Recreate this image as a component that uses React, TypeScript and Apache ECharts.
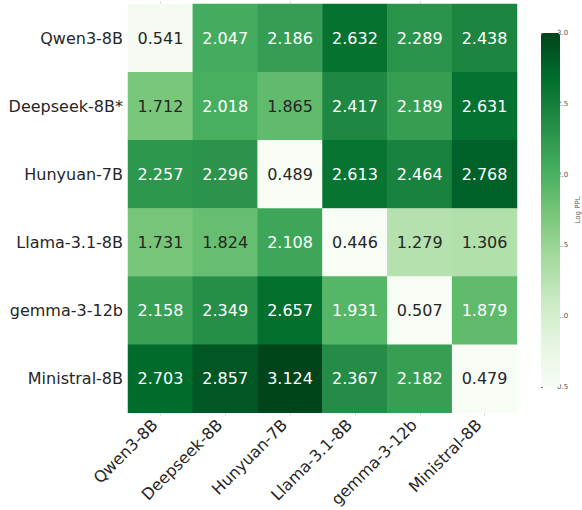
import React, { useEffect, useRef } from "react";
import * as echarts from "echarts";

const rowLabels = ["Qwen3-8B", "Deepseek-8B*", "Hunyuan-7B", "Llama-3.1-8B", "gemma-3-12b", "Ministral-8B"];
const colLabels = ["Qwen3-8B", "Deepseek-8B", "Hunyuan-7B", "Llama-3.1-8B", "gemma-3-12b", "Ministral-8B"];

const rowQwen = [0.541, 2.047, 2.186, 2.632, 2.289, 2.438];
const rowDeepseek = [1.712, 2.018, 1.865, 2.417, 2.189, 2.631];
const rowHunyuan = [2.257, 2.296, 0.489, 2.613, 2.464, 2.768];
const rowLlama = [1.731, 1.824, 2.108, 0.446, 1.279, 1.306];
const rowGemma = [2.158, 2.349, 2.657, 1.931, 0.507, 1.879];
const rowMinistral = [2.703, 2.857, 3.124, 2.367, 2.182, 0.479];

const matrix = [rowQwen, rowDeepseek, rowHunyuan, rowLlama, rowGemma, rowMinistral];

const colorbarMin = 0.5;
const colorbarMax = 3.0;
const colorbarStep = 0.5;

const greens = ["#f7fcf5", "#e5f5e0", "#c7e9c0", "#a1d99b", "#74c476", "#41ab5d", "#238b45", "#006d2c", "#00441b"];

const FONT = "DejaVu Sans";

export default function App() {
  const ref = useRef<HTMLDivElement>(null);

  useEffect(() => {
    if (!ref.current) return;
    const chart = echarts.init(ref.current, null, { renderer: "svg" });

    const data: any[] = [];
    matrix.forEach((row, r) => {
      row.forEach((v, c) => {
        data.push({
          value: [c, r, v],
          label: { color: v < 1.87 ? "#262626" : "#ffffff" },
        });
      });
    });

    chart.setOption({
      animation: false,
      backgroundColor: "#ffffff",
      textStyle: { fontFamily: FONT },
      grid: [
        { left: 128, top: 4, width: 389, height: 413 },
        { left: 541, top: 33, width: 19, height: 354 },
      ],
      xAxis: [
        {
          type: "category",
          gridIndex: 0,
          data: colLabels,
          position: "bottom",
          axisLine: { show: false },
          axisTick: { show: true, alignWithLabel: true, length: 3, lineStyle: { color: "#dddddd" } },
          axisLabel: {
            rotate: 45,
            fontSize: 16,
            color: "#262626",
            fontFamily: FONT,
            margin: 15,
            verticalAlign: "bottom",
            interval: 0,
          },
          splitLine: { show: false },
        },
        {
          type: "category",
          gridIndex: 0,
          data: colLabels,
          position: "top",
          axisLine: { show: false },
          axisTick: { show: true, alignWithLabel: true, length: 3, lineStyle: { color: "#dddddd" } },
          axisLabel: { show: false },
          splitLine: { show: false },
        },
        {
          type: "value",
          gridIndex: 1,
          show: false,
        },
      ],
      yAxis: [
        {
          type: "category",
          gridIndex: 0,
          data: rowLabels,
          inverse: true,
          axisLine: { show: false },
          axisTick: { show: false },
          axisLabel: { fontSize: 16, color: "#262626", fontFamily: FONT, margin: 5, interval: 0 },
          splitLine: { show: false },
        },
        {
          type: "value",
          gridIndex: 1,
          position: "right",
          min: colorbarMin,
          max: colorbarMax,
          interval: colorbarStep,
          axisLine: { show: false },
          axisTick: { show: true, length: 2, lineStyle: { color: "#555555", width: 0.8 } },
          axisLabel: {
            fontSize: 7,
            color: "#555555",
            fontFamily: FONT,
            margin: 3,
            formatter: (v: number) => v.toFixed(1),
          },
          splitLine: { show: false },
          name: "Log PPL",
          nameLocation: "middle",
          nameRotate: 90,
          nameGap: 20,
          nameTextStyle: { fontSize: 7, color: "#555555", fontFamily: FONT },
        },
      ],
      visualMap: {
        type: "continuous",
        min: colorbarMin,
        max: colorbarMax,
        calculable: false,
        seriesIndex: 0,
        left: 541,
        top: 33,
        itemWidth: 19,
        itemHeight: 354,
        padding: 0,
        orient: "vertical",
        inRange: { color: greens },
        textStyle: { fontSize: 7, color: "#555555" },
        hoverLink: false,
      },
      series: [
        {
          type: "heatmap",
          xAxisIndex: 0,
          yAxisIndex: 0,
          data,
          label: {
            show: true,
            fontSize: 16,
            fontFamily: FONT,
            formatter: (p: any) => p.value[2].toFixed(3),
          },
          itemStyle: { borderWidth: 0 },
          emphasis: { disabled: true },
        },
      ],
    });

    return () => chart.dispose();
  }, []);

  return (
    <div
      ref={ref}
      style={{ position: "fixed", left: 0, top: 0, width: 582, height: 510, background: "#fff" }}
    />
  );
}
